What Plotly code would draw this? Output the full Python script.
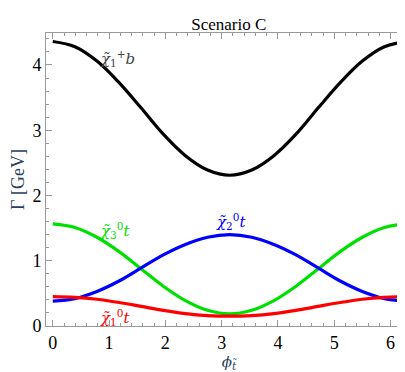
import plotly.graph_objects as go

phi = [0.0, 0.393, 0.785, 1.178, 1.571, 1.963, 2.356, 2.749, 3.142,
       3.534, 3.927, 4.320, 4.712, 5.105, 5.498, 5.890, 6.283]

# decay widths in GeV
gam_chargino_b = [4.36, 4.28, 4.06, 3.73, 3.34, 2.94, 2.61, 2.39, 2.31,
                  2.39, 2.61, 2.94, 3.34, 3.73, 4.06, 4.28, 4.36]
gam_n2_t = [0.38, 0.42, 0.53, 0.69, 0.89, 1.09, 1.25, 1.36, 1.40,
            1.36, 1.25, 1.09, 0.89, 0.69, 0.53, 0.42, 0.38]
gam_n3_t = [1.565, 1.51, 1.36, 1.14, 0.875, 0.61, 0.39, 0.24, 0.185,
            0.24, 0.39, 0.61, 0.875, 1.14, 1.36, 1.51, 1.565]
gam_n1_t = [0.45, 0.44, 0.41, 0.36, 0.30, 0.24, 0.19, 0.16, 0.15,
            0.16, 0.19, 0.24, 0.30, 0.36, 0.41, 0.44, 0.45]

serif = "Liberation Serif"
chi_font = "DejaVu Serif"

fig = go.Figure()
curves = [(gam_chargino_b, "black"), (gam_n3_t, "#00e000"),
          (gam_n2_t, "#0000ff"), (gam_n1_t, "#ff0000")]
for ys, col in curves:
    fig.add_trace(go.Scatter(x=phi, y=ys, mode="lines", line_shape="spline",
                             line=dict(color=col, width=3.2), showlegend=False))

labels = [
    (1.15, 4.1, "<i>χ̃</i><sub>1</sub><sup>+</sup><i>b</i>", "#444444"),
    (1.1, 1.47, "<i>χ̃</i><sub>3</sub><sup>0</sup><i>t</i>", "#00e000"),
    (3.16, 1.6, "<i>χ̃</i><sub>2</sub><sup>0</sup><i>t</i>", "#0000ff"),
    (1.1, 0.13, "<i>χ̃</i><sub>1</sub><sup>0</sup><i>t</i>", "#ff0000"),
]
for lx, ly, txt, col in labels:
    fig.add_annotation(x=lx, y=ly, text=txt, showarrow=False,
                       font=dict(family=chi_font, size=15, color=col))

axis_common = dict(
    showgrid=False, zeroline=False, showline=True, mirror="allticks",
    linecolor="#999999", linewidth=1, ticks="inside", ticklen=6,
    tickcolor="#999999", tickfont=dict(family=serif, size=18, color="black"),
    minor=dict(ticks="inside", ticklen=3, tickcolor="#999999"),
)

fig.update_xaxes(range=[-0.12, 6.38], tick0=0, dtick=1, minor_dtick=0.2,
                 title=dict(text="<i>ϕ</i><sub><i>t̃</i></sub>",
                            font=dict(family=chi_font, size=15), standoff=0),
                 **axis_common)
fig.update_yaxes(range=[0, 4.49], tick0=0, dtick=1, minor_dtick=0.2,
                 title=dict(text="Γ [GeV]", font=dict(family=serif, size=18),
                            standoff=4),
                 **axis_common)

fig.update_layout(
    width=405, height=372,
    margin=dict(l=38, r=1, t=25, b=54),
    title=dict(text="Scenario C", x=0.545, xanchor="center", y=0.972,
               font=dict(family=serif, size=17, color="black")),
    plot_bgcolor="white", paper_bgcolor="white",
)

fig.write_html("out.html")
